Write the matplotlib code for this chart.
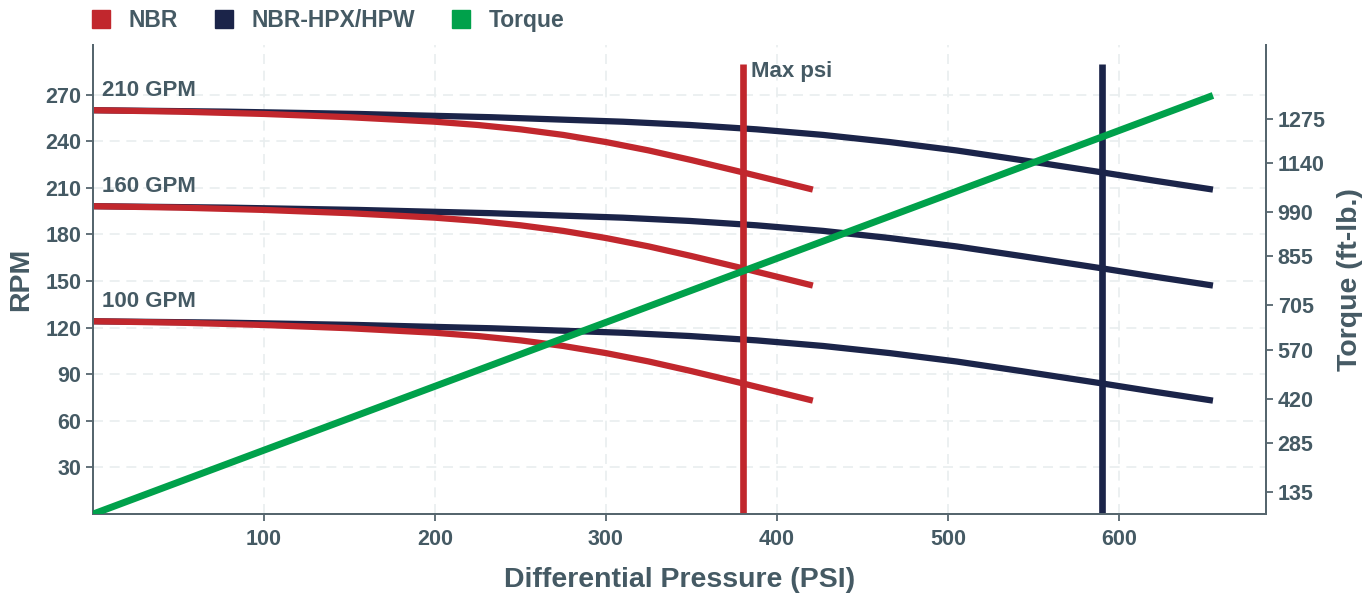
import matplotlib
matplotlib.use('Agg')
import matplotlib.pyplot as plt
from matplotlib.lines import Line2D

plt.rcParams['font.family'] = ['Liberation Sans', 'DejaVu Sans']
plt.rcParams['font.weight'] = 'bold'

# pump curves: RPM against differential pressure for three flow rates
# both elastomers follow the same RPM drop, NBR just over a shorter pressure range
psi_nbr = [0, 50, 100, 150, 200, 225, 250, 275, 300, 325, 350, 380, 400, 421]
psi_hpx = [0, 78, 155, 233, 310, 349, 388, 427, 466, 505, 543, 590, 621, 655]
rpm_210 = [260, 259.1, 257.6, 255.5, 252.6, 250.5, 247.7, 244.1, 239.5, 234.1, 227.9, 220, 214.6, 208.9]
rpm_160 = [198.2, 197.3, 195.8, 193.7, 190.8, 188.7, 185.9, 182.3, 177.7, 172.3, 166.1, 158.2, 152.8, 147.1]
rpm_100 = [124.1, 123.2, 121.7, 119.6, 116.7, 114.6, 111.8, 108.2, 103.6, 98.2, 92, 84.1, 78.7, 73]
flow_labels = ['210 GPM', '160 GPM', '100 GPM']

torque_psi = [0, 655]
torque_ftlb = [68, 1346]

max_psi_nbr = 380
max_psi_hpx = 590

rpm_ticks = [30, 60, 90, 120, 150, 180, 210, 240, 270]
psi_ticks = [100, 200, 300, 400, 500, 600]
torque_ticks = [135, 285, 420, 570, 705, 855, 990, 1140, 1275]

RED = '#C1272D'
NAVY = '#1B2449'
GREEN = '#00A14B'
TEXT = '#455A64'
SPINE = '#56666E'
GRID = '#E9EEEF'

fig = plt.figure(figsize=(13.72, 5.96), dpi=100)
ax = fig.add_axes([0.0678, 0.1376, 0.8549, 0.7869])

curves = (rpm_210, rpm_160, rpm_100)
lw = 4.5
for rpm in curves:
    ax.plot(psi_hpx, rpm, color=NAVY, lw=lw, solid_capstyle='butt', solid_joinstyle='round', zorder=3)
for rpm in curves:
    ax.plot(psi_nbr, rpm, color=RED, lw=lw, solid_capstyle='butt', solid_joinstyle='round', zorder=4)

ax.plot([max_psi_nbr, max_psi_nbr], [0, 290], color=RED, lw=4.8, solid_capstyle='butt', zorder=5)
ax.plot([max_psi_hpx, max_psi_hpx], [0, 290], color=NAVY, lw=4.8, solid_capstyle='butt', zorder=5)
ax.text(max_psi_nbr + 5, 285, 'Max psi', color=TEXT, fontsize=16, fontweight='bold',
        va='center', ha='left', zorder=6)

for label, rpm in zip(flow_labels, curves):
    ax.text(5, rpm[0] + 13, label, color=TEXT, fontsize=16, fontweight='bold',
            va='center', ha='left', zorder=6)

ax.set_xlim(0, 686)
ax.set_ylim(0, 302)
ax.set_xticks(psi_ticks)
ax.set_yticks(rpm_ticks)
ax.grid(True, color=GRID, lw=1.2, ls=(0, (6, 4)))
ax.set_axisbelow(True)
ax.tick_params(colors=SPINE, labelcolor=TEXT, labelsize=15.5, width=1.3, length=5)
ax.tick_params(axis='x', pad=6)
for lab in ax.get_xticklabels() + ax.get_yticklabels():
    lab.set_fontweight('bold')
ax.set_xlabel('Differential Pressure (PSI)', color=TEXT, fontsize=20.5, fontweight='bold', labelpad=12)
ax.set_ylabel('RPM', color=TEXT, fontsize=20.5, fontweight='bold', labelpad=8)

ax2 = ax.twinx()
ax2.plot(torque_psi, torque_ftlb, color=GREEN, lw=5, solid_capstyle='butt', zorder=6)
ax2.set_ylim(68.3, 1500)
ax2.set_yticks(torque_ticks)
ax2.tick_params(colors=SPINE, labelcolor=TEXT, labelsize=15.5, width=1.3, length=5)
for lab in ax2.get_yticklabels():
    lab.set_fontweight('bold')
ax2.set_ylabel('Torque (ft-lb.)', color=TEXT, fontsize=20.5, fontweight='bold', labelpad=8)

for a in (ax, ax2):
    a.spines['top'].set_visible(False)
    for side in ('left', 'right', 'bottom'):
        a.spines[side].set_color(SPINE)
        a.spines[side].set_linewidth(1.4)

handles = [Line2D([], [], ls='', marker='s', markersize=12.5, color=c) for c in (RED, NAVY, GREEN)]
fig.legend(handles, ['NBR', 'NBR-HPX/HPW', 'Torque'], loc='upper left',
           bbox_to_anchor=(0.052, 1.02), ncol=3, frameon=False,
           prop={'size': 16.5, 'weight': 'bold'}, labelcolor=TEXT,
           handlelength=0.8, handletextpad=0.8, columnspacing=1.6)

fig.savefig('out.png', dpi=100)
